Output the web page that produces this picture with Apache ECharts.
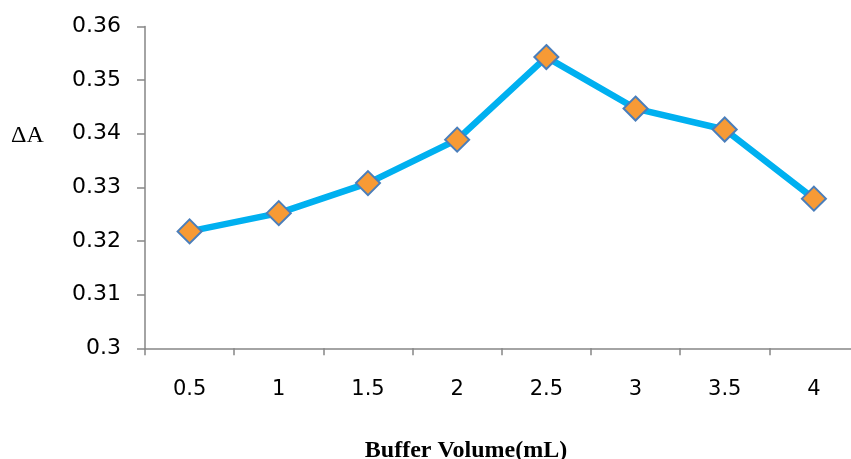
<!DOCTYPE html>
<html><head><meta charset="utf-8">
<script src="https://cdn.jsdelivr.net/npm/echarts@6/dist/echarts.min.js"></script>
<style>html,body{margin:0;padding:0;background:#fff}#c{width:851px;height:459px}</style>
</head><body><div id="c"></div>
<script>
const categories = ['0.5','1','1.5','2','2.5','3','3.5','4'];
const deltaA = [0.3218, 0.3252, 0.3308, 0.3389, 0.3543, 0.3447, 0.3408, 0.3279];
const yTicks = { min: 0.30, max: 0.36, interval: 0.01 };
const xTitle = 'Buffer Volume(mL)';
const yTitle = 'ΔA';

const chart = echarts.init(document.getElementById('c'), null, {renderer:'canvas'});
const axisGray = '#868686';
chart.setOption({
  animation: false,
  backgroundColor: '#fff',
  grid: { left: 145, right: -7.5, top: 26.5, bottom: 110.7, outerBoundsMode: 'none', containLabel: false },
  xAxis: {
    type: 'category', data: categories, boundaryGap: true,
    axisLine: { lineStyle: { color: axisGray, width: 1.5 } },
    axisTick: { show: true, length: 7, lineStyle: { color: axisGray, width: 1.5 } },
    axisLabel: { color: '#000', fontFamily: 'DejaVu Sans', fontSize: 21, margin: 31 },
    splitLine: { show: false }
  },
  yAxis: {
    type: 'value', min: yTicks.min, max: yTicks.max, interval: yTicks.interval,
    axisLine: { show: true, lineStyle: { color: axisGray, width: 1.5 } },
    axisTick: { show: true, length: 8, lineStyle: { color: axisGray, width: 1.5 } },
    axisLabel: { color: '#000', fontFamily: 'DejaVu Sans', fontSize: 22, margin: 24,
      formatter: v => String(parseFloat(v.toFixed(2))) },
    splitLine: { show: false }
  },
  graphic: [
    { type: 'text', left: 11, top: 124, style: { text: yTitle, font: '24px "Liberation Serif"', fill: '#000' } },
    { type: 'text', x: 466, y: 451, style: { text: xTitle, font: 'bold 24px "Liberation Serif"', fill: '#000', align: 'center', verticalAlign: 'middle' } }
  ],
  series: [{
    type: 'line', data: deltaA,
    lineStyle: { color: '#00B0F0', width: 6.5 },
    symbol: 'diamond', symbolSize: 24,
    itemStyle: { color: '#F79A35', borderColor: '#4A7EBB', borderWidth: 2 },
    z: 3
  }]
});
</script></body></html>
